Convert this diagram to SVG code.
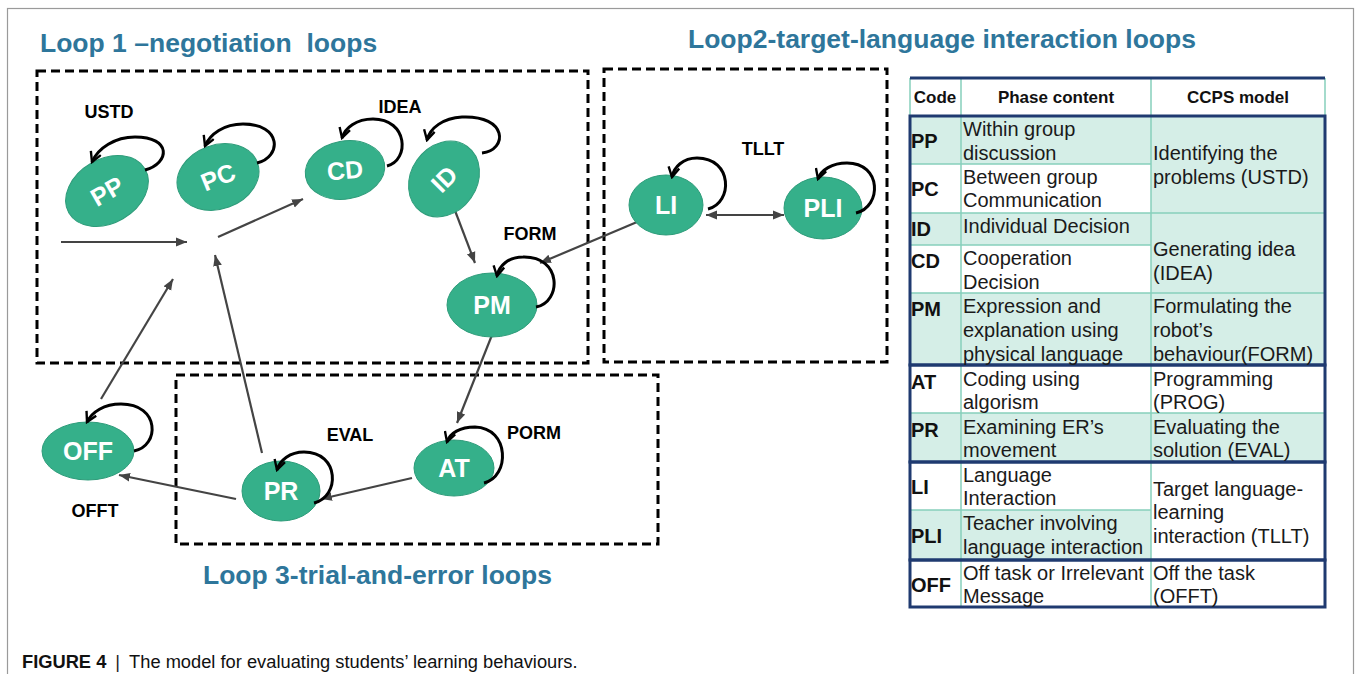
<svg xmlns="http://www.w3.org/2000/svg" width="1356" height="674" viewBox="0 0 1356 674">
<defs>
<style>
.title{font-family:"Liberation Sans",Arial,sans-serif;font-weight:bold;font-size:26.5px;fill:#2E769B}
.lbl{font-family:"Liberation Sans",Arial,sans-serif;font-weight:bold;font-size:18px;fill:#000;text-anchor:middle}
.node ellipse{fill:#35B08A;stroke:#2E9C7A;stroke-width:1}
.node text{font-family:"Liberation Sans",Arial,sans-serif;font-weight:bold;font-size:25px;fill:#fff;text-anchor:middle}
.loop{fill:none;stroke:#000;stroke-width:3;marker-end:url(#vhead)}
.conn{fill:none;stroke:#444;stroke-width:2.2;marker-end:url(#tri)}
.both{marker-start:url(#tri)}
.box{fill:none;stroke:#000;stroke-width:3;stroke-dasharray:9,5}
.th{font-family:"Liberation Sans",Arial,sans-serif;font-weight:bold;font-size:17px;fill:#111;text-anchor:middle}
.code{font-family:"Liberation Sans",Arial,sans-serif;font-weight:bold;font-size:20px;fill:#111}
.td{font-family:"Liberation Sans",Arial,sans-serif;font-size:20px;fill:#1a1a1a}
.fillc{fill:#D5EEE7}
.tl{stroke:#86D0BC;stroke-width:1.5;fill:none}
.nv{stroke:#1F3A70;stroke-width:3;fill:none}
.cap{font-family:"Liberation Sans",Arial,sans-serif;font-size:18.3px;fill:#111}
</style>
<marker id="vhead" viewBox="0 0 12 12" refX="10" refY="6" markerWidth="13" markerHeight="13" markerUnits="userSpaceOnUse" orient="auto">
<path d="M1,1 L10,6 L1,11" fill="none" stroke="#000" stroke-width="2.2"/>
</marker>
<marker id="tri" viewBox="0 0 10 10" refX="10" refY="5" markerWidth="11" markerHeight="11" markerUnits="userSpaceOnUse" orient="auto-start-reverse">
<path d="M0,1 L10,5 L0,9 z" fill="#444"/>
</marker>
</defs>
<rect x="7.5" y="8.5" width="1346" height="700" fill="#fff" stroke="#9a9a9a" stroke-width="1.2"/>

<g id="titles">
<text class="title" x="40" y="52" xml:space="preserve">Loop 1 –negotiation  loops</text>
<text class="title" x="688" y="48">Loop2-target-language interaction loops</text>
<text class="title" x="203" y="584">Loop 3-trial-and-error loops</text>
</g>

<g id="boxes">
<rect class="box" x="37" y="71" width="551" height="292"/>
<rect class="box" x="604" y="69" width="283" height="293"/>
<rect class="box" x="176" y="375" width="482" height="169"/>
</g>

<g id="connectors">
<path class="conn" d="M61,242 L187,242"/>
<path class="conn" d="M218,237 L303,199"/>
<path class="conn" d="M454,208 L475,263"/>
<path class="conn both" d="M540,263 L656,214"/>
<path class="conn both" d="M706,215 L784,215"/>
<path class="conn" d="M492,335 L457,423"/>
<path class="conn" d="M412,478 L321,499"/>
<path class="conn" d="M236,499 L119,475"/>
<path class="conn" d="M262,453 L215,255"/>
<path class="conn" d="M101,399 L173,279"/>
</g>

<g id="node-PP" class="node">
<ellipse cx="107" cy="191" rx="44" ry="32" transform="rotate(-30 107 191)"/>
<text x="107" y="200" transform="rotate(-30 107 191)">PP</text>
<path class="loop" d="M145,170 C170,163 172,137 135,137 C115,137 98,148 92,162"/>
</g>
<g id="node-PC" class="node">
<ellipse cx="218" cy="177" rx="42" ry="32" transform="rotate(-20 218 177)"/>
<text x="218" y="186" transform="rotate(-22 218 177)">PC</text>
<path class="loop" d="M257,163 C282,157 282,124 243,124 C224,124 210,134 205,146"/>
</g>
<g id="node-CD" class="node">
<ellipse cx="345" cy="170" rx="40" ry="29" transform="rotate(-10 345 170)"/>
<text x="345" y="179" transform="rotate(-5 345 170)">CD</text>
<path class="loop" d="M387,166 C410,160 408,119 373,119 C356,119 345,128 342,138"/>
</g>
<g id="node-ID" class="node">
<ellipse cx="444" cy="179" rx="40" ry="33" transform="rotate(-55 444 179)"/>
<text x="444" y="188" transform="rotate(-45 444 179)">ID</text>
<path class="loop" d="M482,153 C508,150 508,115 462,117 C443,118 430,128 427,140"/>
</g>
<g id="node-PM" class="node">
<ellipse cx="492" cy="305" rx="45" ry="32"/>
<text x="492" y="314">PM</text>
<path class="loop" d="M536,307 C562,302 562,256 523,257 C508,257 499,266 497,276"/>
</g>
<g id="node-LI" class="node">
<ellipse cx="666" cy="205" rx="37" ry="30"/>
<text x="666" y="214">LI</text>
<path class="loop" d="M708,209 C733,203 733,158 697,158 C683,158 674,167 672,177"/>
</g>
<g id="node-PLI" class="node">
<ellipse cx="823" cy="208" rx="39" ry="31"/>
<text x="823" y="217">PLI</text>
<path class="loop" d="M856,213 C882,207 882,163 847,163 C832,163 821,170 818,179"/>
</g>
<g id="node-AT" class="node">
<ellipse cx="454" cy="468" rx="40" ry="28"/>
<text x="454" y="477">AT</text>
<path class="loop" d="M484,483 C510,477 510,428 475,427 C460,427 450,433 447,442"/>
</g>
<g id="node-PR" class="node">
<ellipse cx="281" cy="491" rx="39" ry="30"/>
<text x="281" y="500">PR</text>
<path class="loop" d="M314,503 C340,497 340,452 304,452 C290,452 280,460 277,470"/>
</g>
<g id="node-OFF" class="node">
<ellipse cx="88" cy="451" rx="46" ry="29"/>
<text x="88" y="460">OFF</text>
<path class="loop" d="M134,451 C160,446 160,404 121,404 C104,404 92,412 87,422"/>
</g>

<g id="labels">
<text class="lbl" x="109" y="118">USTD</text>
<text class="lbl" x="400" y="113">IDEA</text>
<text class="lbl" x="530" y="240">FORM</text>
<text class="lbl" x="763" y="155">TLLT</text>
<text class="lbl" x="350" y="441">EVAL</text>
<text class="lbl" x="534" y="439">PORM</text>
<text class="lbl" x="95" y="517">OFFT</text>
</g>

<g id="table">
<rect x="910" y="78" width="415" height="38" fill="#fff"/>
<rect class="fillc" x="910" y="116" width="241" height="48"/>
<rect class="fillc" x="1151" y="116" width="174" height="97"/>
<rect class="fillc" x="910" y="213" width="241" height="32"/>
<rect class="fillc" x="1151" y="213" width="174" height="80"/>
<rect class="fillc" x="910" y="293" width="415" height="72"/>
<rect class="fillc" x="910" y="413" width="415" height="49"/>
<rect class="fillc" x="910" y="510" width="241" height="50"/>
<path class="tl" d="M910,78 V116 M1325,78 V116 M961,78 V607 M1151,78 V607 M910,164 H1151 M910,213 H1325 M910,245 H1151 M910,293 H1325 M910,413 H1325 M910,510 H1151"/>
<path class="nv" d="M910,78 H1325"/>
<rect class="nv" x="910" y="116" width="415" height="249"/>
<rect class="nv" x="910" y="365" width="415" height="97"/>
<rect class="nv" x="910" y="462" width="415" height="98"/>
<rect class="nv" x="910" y="560" width="415" height="47"/>
<text class="th" x="935" y="103">Code</text>
<text class="th" x="1056" y="103">Phase content</text>
<text class="th" x="1238" y="103">CCPS model</text>
<text class="code" x="911" y="148">PP</text>
<text class="code" x="911" y="196">PC</text>
<text class="code" x="911" y="236">ID</text>
<text class="code" x="911" y="268">CD</text>
<text class="code" x="911" y="316">PM</text>
<text class="code" x="911" y="389">AT</text>
<text class="code" x="911" y="437">PR</text>
<text class="code" x="911" y="494">LI</text>
<text class="code" x="911" y="543">PLI</text>
<text class="code" x="911" y="592">OFF</text>
<text class="td" x="963" y="136">Within group</text>
<text class="td" x="963" y="160">discussion</text>
<text class="td" x="963" y="184">Between group</text>
<text class="td" x="963" y="207">Communication</text>
<text class="td" x="963" y="233">Individual Decision</text>
<text class="td" x="963" y="265">Cooperation</text>
<text class="td" x="963" y="289">Decision</text>
<text class="td" x="963" y="313">Expression and</text>
<text class="td" x="963" y="337">explanation using</text>
<text class="td" x="963" y="361">physical language</text>
<text class="td" x="963" y="386">Coding using</text>
<text class="td" x="963" y="409">algorism</text>
<text class="td" x="963" y="434">Examining ER’s</text>
<text class="td" x="963" y="457">movement</text>
<text class="td" x="963" y="482">Language</text>
<text class="td" x="963" y="505">Interaction</text>
<text class="td" x="963" y="530">Teacher involving</text>
<text class="td" x="963" y="554">language interaction</text>
<text class="td" x="963" y="580">Off task or Irrelevant</text>
<text class="td" x="963" y="603">Message</text>
<text class="td" x="1153" y="160">Identifying the</text>
<text class="td" x="1153" y="184">problems (USTD)</text>
<text class="td" x="1153" y="256">Generating idea</text>
<text class="td" x="1153" y="280">(IDEA)</text>
<text class="td" x="1153" y="313">Formulating the</text>
<text class="td" x="1153" y="337">robot’s</text>
<text class="td" x="1153" y="361">behaviour(FORM)</text>
<text class="td" x="1153" y="386">Programming</text>
<text class="td" x="1153" y="409">(PROG)</text>
<text class="td" x="1153" y="434">Evaluating the</text>
<text class="td" x="1153" y="457">solution (EVAL)</text>
<text class="td" x="1153" y="496">Target language-</text>
<text class="td" x="1153" y="519">learning</text>
<text class="td" x="1153" y="543">interaction (TLLT)</text>
<text class="td" x="1153" y="580">Off the task</text>
<text class="td" x="1153" y="603">(OFFT)</text>
</g>

<g id="caption">
<text class="cap" x="22" y="668"><tspan font-weight="bold">FIGURE 4</tspan><tspan dx="9" fill="#222">|</tspan><tspan dx="9">The model for evaluating students’ learning behaviours.</tspan></text>
</g>
</svg>
